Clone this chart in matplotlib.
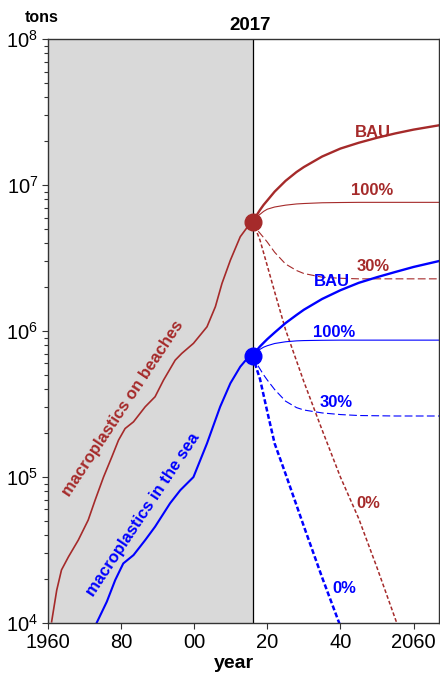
import matplotlib
matplotlib.use("Agg")
import matplotlib.pyplot as plt
from matplotlib.ticker import FixedLocator, LogLocator, NullFormatter

plt.rcParams['font.family'] = ['Liberation Sans', 'DejaVu Sans']
plt.rcParams['mathtext.fontset'] = 'custom'
plt.rcParams['mathtext.rm'] = 'Liberation Sans'

RED = '#a52a2a'
BLUE = '#0000ff'

# historical stocks (tons)
beach_years = [1961.0, 1962.4, 1963.7, 1965.6, 1968.3, 1971.0, 1972.9, 1975.2, 1977.5,
               1979.3, 1981.1, 1983.4, 1986.6, 1989.3, 1991.6, 1994.8, 1996.6, 1999.8,
               2003.5, 2005.8, 2007.6, 2009.9, 2012.6, 2015.3, 2016]
beach_tons = [1.02e4, 1.68e4, 2.31e4, 2.84e4, 3.70e4, 5.07e4, 6.95e4, 1.0e5, 1.38e5,
              1.79e5, 2.15e5, 2.39e5, 3.03e5, 3.55e5, 4.61e5, 6.32e5, 7.03e5, 8.24e5,
              1.07e6, 1.47e6, 2.12e6, 3.06e6, 4.43e6, 5.47e6, 5.62e6]

sea_years = [1973.3, 1976.1, 1978.4, 1980.6, 1983.4, 1986.6, 1989.3, 1993.4, 1996.2,
             1999.8, 2003.5, 2007.1, 2009.9, 2012.6, 2014.9, 2016]
sea_tons = [1.0e4, 1.40e4, 1.97e4, 2.56e4, 2.92e4, 3.70e4, 4.57e4, 6.61e4, 8.13e4,
            1.0e5, 1.70e5, 3.03e5, 4.39e5, 5.70e5, 6.67e5, 6.76e5]

# scenarios after 2017
proj_years = [2016, 2017, 2018, 2019, 2020, 2022, 2025, 2028, 2030, 2035, 2040, 2045,
              2050, 2055, 2060, 2067]
beach_bau = [5.62e6, 6.17e6, 6.76e6, 7.33e6, 7.85e6, 9.02e6, 1.07e7, 1.23e7, 1.33e7,
             1.57e7, 1.78e7, 1.95e7, 2.11e7, 2.26e7, 2.40e7, 2.57e7]
beach_100 = [5.62e6, 6.03e6, 6.31e6, 6.61e6, 6.84e6, 7.08e6, 7.29e6, 7.43e6, 7.48e6,
             7.57e6, 7.60e6, 7.62e6, 7.62e6, 7.62e6, 7.62e6, 7.62e6]
beach_30 = [5.62e6, 5.01e6, 4.68e6, 4.37e6, 4.07e6, 3.47e6, 2.88e6, 2.60e6, 2.48e6,
            2.34e6, 2.30e6, 2.28e6, 2.28e6, 2.28e6, 2.28e6, 2.28e6]
sea_bau = [6.76e5, 7.33e5, 7.85e5, 8.32e5, 8.81e5, 9.77e5, 1.135e6, 1.29e6, 1.40e6,
           1.66e6, 1.905e6, 2.14e6, 2.34e6, 2.54e6, 2.75e6, 3.02e6]
sea_100 = [6.76e5, 7.24e5, 7.5e5, 7.76e5, 7.94e5, 8.22e5, 8.45e5, 8.57e5, 8.61e5,
           8.65e5, 8.67e5, 8.67e5, 8.67e5, 8.67e5, 8.67e5, 8.67e5]
sea_30 = [6.76e5, 6.03e5, 5.5e5, 5.01e5, 4.62e5, 3.98e5, 3.31e5, 2.99e5, 2.88e5,
          2.75e5, 2.68e5, 2.64e5, 2.63e5, 2.62e5, 2.62e5, 2.62e5]

beach_0_years = [2016, 2018, 2020, 2022, 2025, 2030, 2035, 2040, 2045, 2050, 2055, 2056]
beach_0 = [5.62e6, 4.2e6, 2.8e6, 1.86e6, 1.02e6, 4.5e5, 2.1e5, 1.0e5, 5.2e4, 2.4e4, 1.07e4, 9.1e3]
sea_0_years = [2016, 2017, 2018, 2020, 2022, 2025, 2030, 2035, 2040]
sea_0 = [6.76e5, 5.6e5, 4.7e5, 2.8e5, 1.7e5, 1.05e5, 4.6e4, 2.05e4, 9.5e3]

year_ticks = [1960, 1980, 2000, 2020, 2040, 2060]
year_labels = ['1960', '80', '00', '20', '40', '2060']

fig = plt.figure(figsize=(4.4, 6.75), dpi=100)
ax = fig.add_axes([0.109, 0.077, 0.889, 0.865])

ax.axvspan(1960, 2016, color='#d9d9d9', lw=0, zorder=0)
ax.axvline(2016, color='black', lw=0.9, zorder=1)

ax.plot(beach_years, beach_tons, color=RED, lw=1.2)
ax.plot(sea_years, sea_tons, color=BLUE, lw=1.5)

ax.plot(proj_years, beach_bau, color=RED, lw=1.7)
ax.plot(proj_years, beach_100, color=RED, lw=0.8)
ax.plot(proj_years, beach_30, color=RED, lw=0.8, dashes=(7, 3))
ax.plot(beach_0_years, beach_0, color=RED, lw=1.1, dashes=(2.5, 1.5))

ax.plot(proj_years, sea_bau, color=BLUE, lw=1.7)
ax.plot(proj_years, sea_100, color=BLUE, lw=0.8)
ax.plot(proj_years, sea_30, color=BLUE, lw=0.8, dashes=(7, 3))
ax.plot(sea_0_years, sea_0, color=BLUE, lw=1.8, dashes=(2, 1))

ax.plot([proj_years[0]], [beach_bau[0]], 'o', color=RED, ms=12, zorder=5)
ax.plot([proj_years[0]], [sea_bau[0]], 'o', color=BLUE, ms=12, zorder=5)

lab = dict(fontsize=12, fontweight='bold', ha='center', va='center')
ax.text(2049.0, 10**7.363, 'BAU', color=RED, **lab)
ax.text(2048.7, 10**6.966, '100%', color=RED, **lab)
ax.text(2048.9, 10**6.44, '30%', color=RED, **lab)
ax.text(2047.5, 10**4.817, '0%', color=RED, **lab)
ax.text(2037.7, 10**6.342, 'BAU', color=BLUE, **lab)
ax.text(2038.4, 10**5.993, '100%', color=BLUE, **lab)
ax.text(2038.9, 10**5.514, '30%', color=BLUE, **lab)
ax.text(2041.1, 10**4.238, '0%', color=BLUE, **lab)

ax.text(1980.4, 10**5.469, 'macroplastics on beaches', color=RED, rotation=56.5,
        rotation_mode='anchor', **lab)
ax.text(1985.9, 10**4.74, 'macroplastics in the sea', color=BLUE, rotation=56.4,
        rotation_mode='anchor', **lab)

ax.set_yscale('log')
ax.set_xlim(1960, 2067)
ax.set_ylim(1e4, 1e8)
ax.xaxis.set_major_locator(FixedLocator(year_ticks))
ax.set_xticklabels(year_labels)
ax.yaxis.set_major_locator(FixedLocator([1e4, 1e5, 1e6, 1e7, 1e8]))
ax.yaxis.set_minor_locator(LogLocator(base=10, subs=range(2, 10)))
ax.yaxis.set_minor_formatter(NullFormatter())
ax.tick_params(axis='both', which='major', labelsize=14.5, length=4, width=0.8,
               color='#333333', pad=3)
ax.tick_params(axis='y', which='minor', length=3, width=0.8, color='#333333')
for s in ax.spines.values():
    s.set_linewidth(1.0)
    s.set_color('#333333')

fig.text(0.095, 0.974, 'tons', fontsize=11.5, fontweight='bold', ha='center', va='center')
fig.text(250 / 440, 1 - 26 / 675, '2017', fontsize=13.5, fontweight='bold',
         ha='center', va='center')
fig.text(234 / 440, 1 - 664 / 675, 'year', fontsize=14, fontweight='bold',
         ha='center', va='center')

fig.savefig('out.png', dpi=100)
